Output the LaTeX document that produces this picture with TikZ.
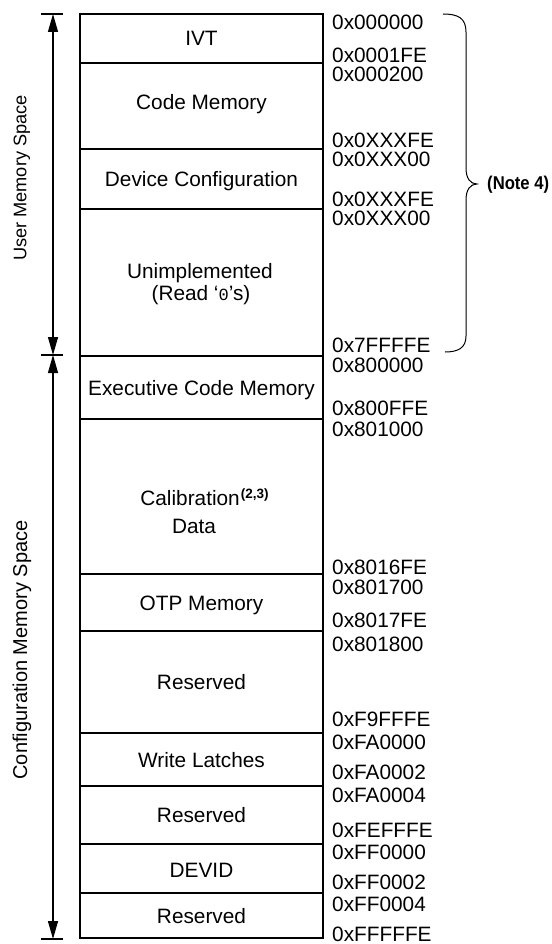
\documentclass[tikz,border=0pt]{standalone}
\usepackage{fontspec}
\setmainfont{Liberation Sans}
\newfontfamily\monof{Liberation Mono}
\usetikzlibrary{arrows.meta}
\begin{document}
\begin{tikzpicture}[x=1pt,y=-1pt,
  lbl/.style={font=\fontsize{20.8}{23}\selectfont, inner sep=0pt, anchor=base},
  addr/.style={font=\fontsize{20.8}{23}\selectfont, inner sep=0pt, anchor=west},
  side/.style={font=\fontsize{18.2}{21}\selectfont, inner sep=0pt, rotate=90},
  boxline/.style={line width=2pt},
  dimarrow/.style={line width=1.3pt, {Triangle[length=18pt,width=10pt]}-{Triangle[length=18pt,width=10pt]}},
  tickline/.style={line width=1.3pt},
  braceline/.style={line width=1pt}
]
\useasboundingbox (0,0) rectangle (551,944);

% region boundaries
\foreach \i/\y in {0/14,1/63,2/149,3/209,4/356,5/419,6/574,7/631,8/733,9/786,10/844,11/893,12/938}{
  \coordinate (L\i) at (80,\y);
  \coordinate (R\i) at (323,\y);
}
\draw[boxline] (L0) rectangle (R12);
\foreach \i in {1,...,11}{ \draw[boxline] (L\i) -- (R\i); }

% region labels
\node[lbl] (ivt) at (201.5,45.5) {IVT};
\node[lbl] (code) at (201.5,110) {Code Memory};
\node[lbl] (devcfg) at (201.5,186) {Device Configuration};
\node[lbl] (unimp1) at (200,278) {Unimplemented};
\node[lbl] (unimp2) at (201,300) {(Read ‘{\monof\fontsize{17}{17}\selectfont 0}’s)};
\node[lbl] (exec) at (201.5,395) {Executive Code Memory};
\node[lbl] (cal1) at (204.5,505) {Calibration\kern1pt\raisebox{6.5pt}{\fontsize{13.5}{13.5}\selectfont\bfseries(2,3)}};
\node[lbl] (cal2) at (194,533) {Data};
\node[lbl] (otp) at (201.5,610) {OTP Memory};
\node[lbl] (res1) at (201.5,689.5) {Reserved};
\node[lbl] (wl) at (201.5,767) {Write Latches};
\node[lbl] (res2) at (201.5,822.5) {Reserved};
\node[lbl] (devid) at (201.5,877) {DEVID};
\node[lbl] (res3) at (201.5,923) {Reserved};

% addresses
\foreach \n/\y/\t in {a1/22/0x000000, a2/55.5/0x0001FE, a3/74/0x000200, a4/140.5/0x0XXXFE, a5/159/0x0XXX00,
  a6/199.5/0x0XXXFE, a7/218/0x0XXX00, a8/345/0x7FFFFE, a9/365/0x800000, a10/408/0x800FFE, a11/429/0x801000,
  a12/567/0x8016FE, a13/587/0x801700, a14/620/0x8017FE, a15/644/0x801800, a16/719/0xF9FFFE, a17/742/0xFA0000,
  a18/772/0xFA0002, a19/795/0xFA0004, a20/830/0xFEFFFE, a21/852/0xFF0000, a22/882/0xFF0002, a23/904/0xFF0004,
  a24/934/0xFFFFFE}{
  \node[addr] (\n) at (332,\y) {\t};
}

% left dimension arrows
\coordinate (t0l) at (41,14);  \coordinate (t0r) at (63,14);
\coordinate (t1l) at (41,355); \coordinate (t1r) at (63,355);
\coordinate (t2l) at (41,939); \coordinate (t2r) at (63,939);
\coordinate (u0) at (53,14); \coordinate (u1) at (53,355); \coordinate (u2) at (53,939);
\draw[tickline] (t0l) -- (t0r);
\draw[tickline] (t1l) -- (t1r);
\draw[tickline] (t2l) -- (t2r);
\draw[dimarrow] (u0) -- (u1);
\draw[dimarrow] (u1) -- (u2);
\node[side] (usr) at (22,178) {User Memory Space};
\node[side, font=\fontsize{20}{23}\selectfont] (cfg) at (22,650) {Configuration Memory Space};

% brace
\coordinate (bt) at (443,14);
\coordinate (bm) at (477,184);
\coordinate (bb) at (445,352);
\draw[braceline] (bt) .. controls (458,14) and (466,18) .. (466,32) -- (466,168)
  .. controls (466,178) and (470,184) .. (bm)
  .. controls (470,184) and (466,190) .. (466,200) -- (466,336)
  .. controls (466,348) and (458,352) .. (bb);
\node[inner sep=0pt, anchor=west, font=\fontsize{18.5}{18.5}\selectfont\bfseries] (note) at (487,185) {\scalebox{0.9}[1]{(Note 4)}};
\end{tikzpicture}
\end{document}
